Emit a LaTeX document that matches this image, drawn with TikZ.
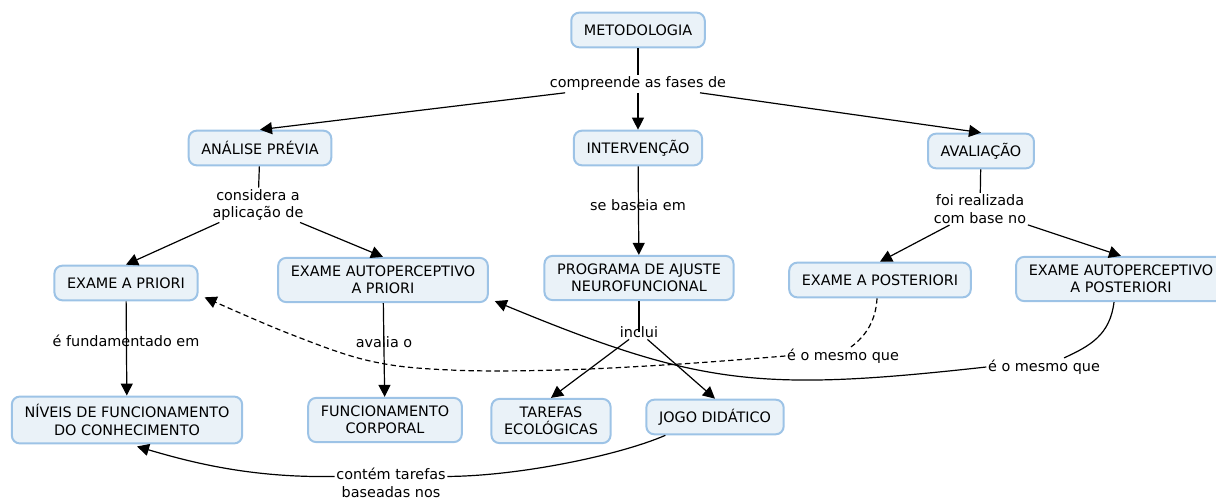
\documentclass[tikz,border=0pt]{standalone}
\usepackage{fontspec}
\setmainfont{DejaVu Sans}
\usetikzlibrary{arrows.meta,calc}
\definecolor{conceptline}{RGB}{157,195,230}
\definecolor{conceptfill}{RGB}{234,242,248}
\tikzset{
	concept/.style={draw=conceptline, fill=conceptfill, line width=1.5pt, rounded corners=6pt, align=center, inner xsep=9.5pt, inner ysep=6pt, minimum height=26pt},
	linkword/.style={align=center, inner sep=1pt},
	link/.style={line width=0.9pt},
	linkarrow/.style={link, -{Triangle[length=9pt,width=9pt]}},
	samelink/.style={dash pattern=on 4pt off 2.5pt}}
\tikzset{every picture/.style={line width=0.75pt}}

\begin{document}
\begin{tikzpicture}[x=0.75pt,y=0.75pt,yscale=-1,xscale=1,font=\fontsize{10.8}{13}\selectfont]
	\useasboundingbox (0,0) rectangle (1216,502);

	% Concepts
	\node [concept] (met) at (638,30) {METODOLOGIA};
	\node [concept] (ana) at (260,148) {ANÁLISE PRÉVIA};
	\node [concept] (int) at (638,148) {INTERVENÇÃO};
	\node [concept] (ava) at (981,151) {AVALIAÇÃO};
	\node [concept] (pri) at (126,283) {EXAME A PRIORI};
	\node [concept] (ap1) at (383,280) {EXAME AUTOPERCEPTIVO\\A PRIORI};
	\node [concept] (prog) at (639,278) {PROGRAMA DE AJUSTE\\NEUROFUNCIONAL};
	\node [concept] (post) at (880,280) {EXAME A POSTERIORI};
	\node [concept] (ap2) at (1121,279) {EXAME AUTOPERCEPTIVO\\A POSTERIORI};
	\node [concept] (niv) at (127,420) {NÍVEIS DE FUNCIONAMENTO\\DO CONHECIMENTO};
	\node [concept] (fc) at (385,420) {FUNCIONAMENTO\\CORPORAL};
	\node [concept] (tar) at (551,421) {TAREFAS\\ECOLÓGICAS};
	\node [concept] (jogo) at (715,417) {JOGO DIDÁTICO};

	% Linking words
	\node [linkword] (cmp) at (638,84) {compreende as fases de};
	\node [linkword] (cons) at (258,205) {considera a\\aplicação de};
	\node [linkword] (base) at (638,205) {se baseia em};
	\node [linkword] (foi) at (980,209) {foi realizada\\com base no};
	\node [linkword] (fund) at (126,341) {é fundamentado em};
	\node [linkword] (aval) at (384,342) {avalia o};
	\node [linkword] (incl) at (639,332) {inclui};
	\node [linkword] (eq1) at (843,356) {é o mesmo que};
	\node [linkword] (eq2) at (1044,367) {é o mesmo que};
	\node [linkword] (ctb) at (391,483) {contém tarefas\\baseadas nos};
	\coordinate (pritip) at ($(pri.south east)+(6,-4)$);
	\coordinate (ap1tip) at ($(ap1.south east)+(6,-2)$);

	% Straight links
	\draw [link] (met) -- (cmp);
	\draw [linkarrow] (cmp) -- (int);
	\draw [linkarrow] (cmp) -- (ana.north);
	\draw [linkarrow] (cmp) -- (ava.north);
	\draw [link] (ana) -- (cons);
	\draw [linkarrow] (cons) -- (pri.north);
	\draw [linkarrow] (cons) -- (ap1.north);
	\draw [linkarrow] (int) -- (prog);
	\draw [link] (ava) -- (foi);
	\draw [linkarrow] (foi) -- (post.north);
	\draw [linkarrow] (foi) -- (ap2.north);
	\draw [linkarrow] (pri) -- (niv);
	\draw [linkarrow] (ap1) -- (fc);
	\draw [link] (prog) -- (incl.center);
	\draw [linkarrow] (incl) -- (tar.north);
	\draw [linkarrow] (incl) -- (jogo.north);

	% Curved links
	\draw [link, samelink] ($(post.south)+(-3,0)$) .. controls (876,320) and (866,336) .. ($(eq1.north)+(8,0)$);
	\draw [linkarrow, samelink] plot [smooth, tension=0.6] coordinates {(eq1.west) (680,364) (560,370) (450,370) (370,361) (290,334) (pritip)};
	\draw [link] ($(ap2.south)+(-7,0)$) .. controls (1110,335) and (1090,346) .. ($(eq2.north)+(20,0)$);
	\draw [linkarrow] (eq2.west) .. controls (760,392) and (700,386) .. (ap1tip);
	\draw [link] ($(jogo.south west)+(20,0)$) .. controls (620,455) and (520,476) .. ($(ctb.north east)!0.3!(ctb.south east)$);
	\draw [linkarrow] ($(ctb.north west)!0.3!(ctb.south west)$) .. controls (250,478) and (190,462) .. ($(niv.south)+(10,2)$);

\end{tikzpicture}
\end{document}
